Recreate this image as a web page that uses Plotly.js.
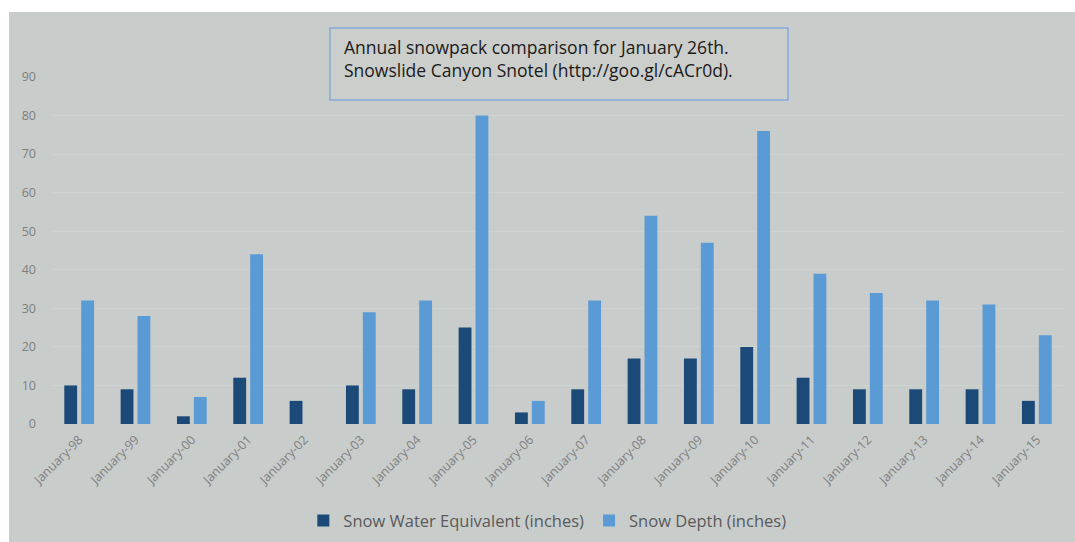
<!DOCTYPE html>
<html>
<head>
<meta charset="utf-8">
<script src="https://cdn.plot.ly/plotly-3.0.1.min.js"></script>
<style>
  html, body { margin: 0; padding: 0; background: #ffffff; }
  #chart { position: absolute; left: 9px; top: 12px; width: 1066px; height: 530px; }
</style>
</head>
<body>
<div id="chart"></div>
<script>
// Snowpack on January 26th, Snowslide Canyon SNOTEL site
const years = ["January-98", "January-99", "January-00", "January-01", "January-02", "January-03",
               "January-04", "January-05", "January-06", "January-07", "January-08", "January-09",
               "January-10", "January-11", "January-12", "January-13", "January-14", "January-15"];
const snowWaterEquivalent = [10, 9, 2, 12, 6, 10, 9, 25, 3, 9, 17, 17, 20, 12, 9, 9, 9, 6];
const snowDepth = [32, 28, 7, 44, null, 29, 32, 80, 6, 32, 54, 47, 76, 39, 34, 32, 31, 23];
const yTicks = [0, 10, 20, 30, 40, 50, 60, 70, 80, 90];
const titleLines = ["Annual snowpack comparison for January 26th.",
                    "Snowslide Canyon Snotel (http://goo.gl/cACr0d)."];

const bg = "#c8cccb";
const font = "'Open Sans', sans-serif";

const traces = [
  { type: "bar", name: "Snow Water Equivalent (inches)", x: years, y: snowWaterEquivalent,
    marker: { color: "#1b4a78" }, hoverinfo: "x+y" },
  { type: "bar", name: "Snow Depth (inches)", x: years, y: snowDepth,
    marker: { color: "#5b9bd5" }, hoverinfo: "x+y" }
];

const layout = {
  width: 1066, height: 530,
  paper_bgcolor: bg, plot_bgcolor: bg,
  margin: { l: 42, r: 10, t: 65, b: 118 },
  font: { family: font, color: "#7f7f7f" },
  barmode: "group", bargap: 0.4, bargroupgap: 0.24,
  showlegend: true,
  legend: {
    orientation: "h", xref: "container", yref: "container",
    x: 0.505, xanchor: "center", y: 0.04, yanchor: "middle",
    font: { size: 16.5, color: "#5a5a5a", family: font },
    bgcolor: "rgba(0,0,0,0)", itemwidth: 30
  },
  xaxis: {
    type: "category", tickangle: -45, showgrid: false, zeroline: false, showline: false,
    ticks: "", ticklabelstandoff: 5, tickfont: { size: 12.5, color: "#808080" }
  },
  yaxis: {
    range: [0, 90], tickvals: yTicks, showgrid: true, gridcolor: "rgba(255,255,255,0.12)",
    zeroline: false, showline: false, ticks: "", ticklabelstandoff: 14,
    tickfont: { size: 12.5, color: "#808080" }
  },
  shapes: [
    { type: "rect", xref: "paper", yref: "paper", x0: 0.2751, x1: 0.7268, y0: 0.9337, y1: 1.1412,
      line: { color: "#86aad8", width: 1.5 }, fillcolor: "rgba(214,210,204,0.25)", layer: "above" }
  ],
  annotations: titleLines.map((t, i) => ({
    text: t, xref: "paper", yref: "paper", x: 0.2865, y: i === 0 ? 1.0865 : 1.020,
    xanchor: "left", yanchor: "middle", showarrow: false, align: "left",
    font: { family: font, size: 17.5, color: "#1a1a1a" }
  }))
};

Plotly.newPlot("chart", traces, layout, { displayModeBar: false, staticPlot: true });
</script>
</body>
</html>
